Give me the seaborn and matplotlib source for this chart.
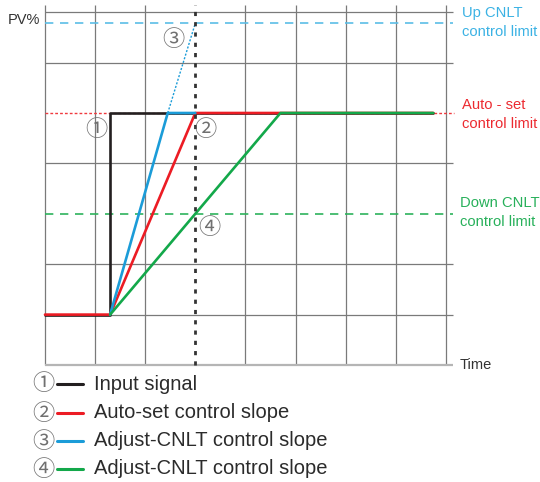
import matplotlib
matplotlib.use("Agg")
import matplotlib.pyplot as plt
import seaborn as sns
import numpy as np

# ---------------- data (grid units) ----------------
input_x = [0, 1.3, 1.3, 7.75]
input_y = [1, 1, 5, 5]
auto_x = [0, 1.3, 3.0, 7.75]
auto_y = [1, 1, 5, 5]
up_x = [1.3, 2.45, 3.0]
up_y = [1, 5, 5]
up_ext_x = [2.45, 3.0]
up_ext_y = [5, 6.78]
down_x = [1.3, 4.7, 7.75]
down_y = [1, 5, 5]

up_limit = 6.78
auto_limit = 5
down_limit = 3
marker_time = 3

grid_x = [0, 1, 2, 4, 5, 6, 7, 8]
grid_y = [1, 2, 4, 6, 7]

legend_labels = ["Input signal", "Auto-set control slope",
                 "Adjust-CNLT control slope", "Adjust-CNLT control slope"]
legend_nums = ["①", "②", "③", "④"]

C_BLACK = "#231f20"
C_RED = "#ec1c24"
C_BLUE = "#1b9cd8"
C_BLUE_L = "#5bbde6"
C_GREEN = "#13a84a"
C_GRID = "#7a7a7a"
C_NUM = "#707070"

sns.set_theme(style="white")
plt.rcParams['font.family'] = ['Liberation Sans', 'DejaVu Sans']

W, H = 540, 482
fig = plt.figure(figsize=(W / 100, H / 100), dpi=100)
ax = fig.add_axes([0, 0, 1, 1])
XU, YU = 50.1, 50.4
X0, Y0 = 45, 365
ax.set_xlim(-X0 / XU, (W - X0) / XU)
ax.set_ylim((Y0 - H) / YU, Y0 / YU)
ax.axis("off")

x_right = (453 - X0) / XU
y_top = (Y0 - 5) / YU

# grid
ax.vlines(grid_x, 0, y_top, colors=C_GRID, lw=0.9, zorder=1)
ax.hlines(grid_y, 0, x_right, colors=C_GRID, lw=0.9, zorder=1)
ax.hlines([0], 0, x_right, colors="#b5b5b5", lw=1.6, zorder=1)

# limit lines
ax.hlines([up_limit], 0, x_right, colors=C_BLUE_L, lw=1.2, linestyles=(0, (5, 4)), zorder=2)
ax.hlines([down_limit], 0, x_right, colors="#2db35c", lw=1.2, linestyles=(0, (5, 4)), zorder=2)
ax.hlines([auto_limit], 0, (454 - X0) / XU, colors="#f03a3f", lw=1.0, linestyles=(0, (2, 1.5)), zorder=2)
ax.vlines([marker_time], 0, y_top, colors="#333333", lw=2.0, linestyles=(0, (1.5, 2.2)), zorder=6)

# series
sns.lineplot(x=input_x, y=input_y, sort=False, estimator=None, color=C_BLACK, lw=1.9, ax=ax, zorder=3)
sns.lineplot(x=auto_x, y=auto_y, sort=False, estimator=None, color=C_RED, lw=1.9, ax=ax, zorder=4)
sns.lineplot(x=up_ext_x, y=up_ext_y, sort=False, estimator=None, color=C_BLUE, lw=1.0,
             linestyle=(0, (1.5, 1.2)), ax=ax, zorder=4)
sns.lineplot(x=up_x, y=up_y, sort=False, estimator=None, color=C_BLUE, lw=1.9, ax=ax, zorder=5)
sns.lineplot(x=down_x, y=down_y, sort=False, estimator=None, color=C_GREEN, lw=1.9, ax=ax, zorder=5)

def ft(x, y, s, **kw):
    fig.text(x / W, 1 - y / H, s, **kw)

NUMFONT = ['Noto Sans CJK JP', 'DejaVu Sans']

# axis labels
ft(8, 20, "PV%", fontsize=10.5, color="#333333", va="center", ha="left")
ft(460, 365, "Time", fontsize=10.5, color="#333333", va="center", ha="left")

# limit labels
LF = 10.6
ft(462, 13, "Up CNLT", fontsize=LF, color="#3bb2e4", va="center")
ft(462, 32, "control limit", fontsize=LF, color="#3bb2e4", va="center")
ft(462, 105, "Auto - set", fontsize=LF, color="#ec2a30", va="center")
ft(462, 124, "control limit", fontsize=LF, color="#ec2a30", va="center")
ft(460, 203, "Down CNLT", fontsize=LF, color="#27b05a", va="center")
ft(460, 222, "control limit", fontsize=LF, color="#27b05a", va="center")

# circled markers in plot
for (px, py, s) in [(173, 40, "③"), (96, 130, "①"), (205, 130, "②"), (209, 228, "④")]:
    ft(px, py, s, fontsize=16, family=NUMFONT, color=C_NUM, ha="center", va="center")

# legend
leg_colors = [C_BLACK, C_RED, C_BLUE, C_GREEN]
rows = [384, 413, 441, 469]
for yy, num, col, lab in zip(rows, legend_nums, leg_colors, legend_labels):
    ft(43, yy, num, fontsize=16, family=NUMFONT, color=C_NUM, ha="center", va="center")
    fig.add_artist(plt.Line2D([57 / W, 83 / W], [1 - yy / H, 1 - yy / H], color=col, lw=2.2,
                              transform=fig.transFigure))
    ft(94, yy, lab, fontsize=14.5, color="#2b2b2b", ha="left", va="center")

fig.savefig("out.png", dpi=100)
